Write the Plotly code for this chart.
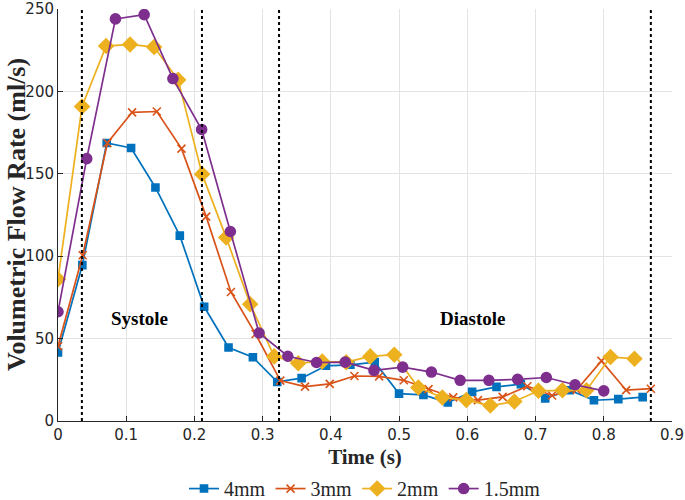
import plotly.graph_objects as go

# ---- data ----
t_4mm = [k * 0.857 / 24 for k in range(25)]
q_4mm = [41.6, 94.6, 168.7, 165.7, 141.7, 112.5, 69.3, 44.6, 38.7, 23.7, 26.0, 33.5, 34.1,
         35.7, 16.6, 15.8, 11.2, 17.7, 20.7, 22.3, 13.7, 18.7, 12.6, 13.3, 14.5]

t_3mm = [k * 0.869 / 24 for k in range(25)]
q_3mm = [45.4, 100.6, 168.7, 187.3, 187.8, 165.3, 124.0, 78.3, 52.8, 24.5, 20.9, 22.5, 27.3,
         27.1, 24.7, 19.3, 14.3, 12.7, 14.6, 21.1, 15.5, 19.0, 36.5, 18.7, 19.6]

t_2mm = [k * 0.845 / 24 for k in range(25)]
q_2mm = [86.0, 190.8, 227.5, 228.5, 226.9, 207.0, 149.8, 111.4, 70.9, 39.2, 35.1, 36.1, 35.7,
         39.2, 40.2, 20.3, 14.3, 12.7, 9.4, 11.8, 18.3, 18.7, 18.7, 38.8, 37.8]

t_15mm = [k * 0.8 / 19 for k in range(20)]
q_15mm = [66.3, 159.2, 244.0, 246.6, 207.8, 176.9, 115.0, 53.4, 39.3, 35.5, 35.7, 30.7, 32.7,
          29.7, 24.7, 24.7, 25.3, 26.4, 22.0, 18.3]

phase_lines = [0.035, 0.211, 0.324, 0.869]
phase_labels = ["Systole", "Diastole"]
phase_label_x = [0.12, 0.608]
phase_label_y = 62

x_ticks = [0, 0.1, 0.2, 0.3, 0.4, 0.5, 0.6, 0.7, 0.8, 0.9]
y_ticks = [0, 50, 100, 150, 200, 250]

x_title = "Time (s)"
y_title = "Volumetric Flow Rate (ml/s)"

series = [
    ("4mm", t_4mm, q_4mm, "#0072BD", "square", 7),
    ("3mm", t_3mm, q_3mm, "#D95319", "x-thin", 8),
    ("2mm", t_2mm, q_2mm, "#EDB120", "diamond", 11),
    ("1.5mm", t_15mm, q_15mm, "#7E2F8E", "circle", 10),
]

fig = go.Figure()
for name, t, q, c, sym, sz in series:
    fig.add_trace(go.Scatter(
        x=t, y=q, mode="lines+markers", name=name,
        line=dict(color=c, width=1.7),
        marker=dict(symbol=sym, size=sz, color=c, line=dict(color=c, width=1.6)),
    ))

for xv in phase_lines:
    fig.add_shape(type="line", xref="x", yref="y", x0=xv, x1=xv, y0=0, y1=250,
                  line=dict(color="black", width=2, dash="dot"))

for lbl, xv in zip(phase_labels, phase_label_x):
    fig.add_annotation(x=xv, y=phase_label_y, text="<b>%s</b>" % lbl, showarrow=False,
                       font=dict(family="Liberation Serif", size=19, color="black"))

# y-axis title as a rotated annotation for precise placement
fig.add_annotation(xref="paper", yref="paper", x=0, y=0.5, xshift=-42,
                   xanchor="center", yanchor="middle", textangle=-90, showarrow=False,
                   text="<b>%s</b>" % y_title,
                   font=dict(family="Liberation Serif", size=26, color="#262626"))

fig.update_layout(
    width=685, height=500,
    margin=dict(l=58, r=13, t=9, b=79, autoexpand=False),
    plot_bgcolor="white", paper_bgcolor="white",
    font=dict(family="DejaVu Sans", size=15, color="#262626"),
    showlegend=True,
    legend=dict(orientation="h", x=0.5, xanchor="center", y=-0.164, yanchor="middle",
                font=dict(family="Liberation Serif", size=20, color="#262626"),
                itemwidth=30, tracegroupgap=0, bgcolor="rgba(0,0,0,0)"),
)
fig.update_xaxes(
    range=[0, 0.9], tickvals=x_ticks, ticktext=[("%g" % v) for v in x_ticks],
    showgrid=True, gridcolor="#e3e3e3", gridwidth=1, automargin=False,
    showline=True, linecolor="#262626", linewidth=1, ticklabeloverflow="allow",
    ticks="inside", ticklen=5, tickcolor="#262626", zeroline=False,
    tickfont=dict(family="DejaVu Sans", size=15, color="#262626"),
    title=dict(text="<b>%s</b>" % x_title, standoff=6,
               font=dict(family="Liberation Serif", size=21, color="#262626")),
)
fig.update_yaxes(
    range=[0, 250], tickvals=y_ticks,
    showgrid=True, gridcolor="#e3e3e3", gridwidth=1, automargin=False,
    showline=True, linecolor="#262626", linewidth=1, ticklabeloverflow="allow",
    ticks="inside", ticklen=5, tickcolor="#262626", zeroline=False,
    tickfont=dict(family="DejaVu Sans", size=15, color="#262626"),
)

fig.write_html("out.html", post_script="document.body.style.margin='0';",
               config={"displayModeBar": False})
